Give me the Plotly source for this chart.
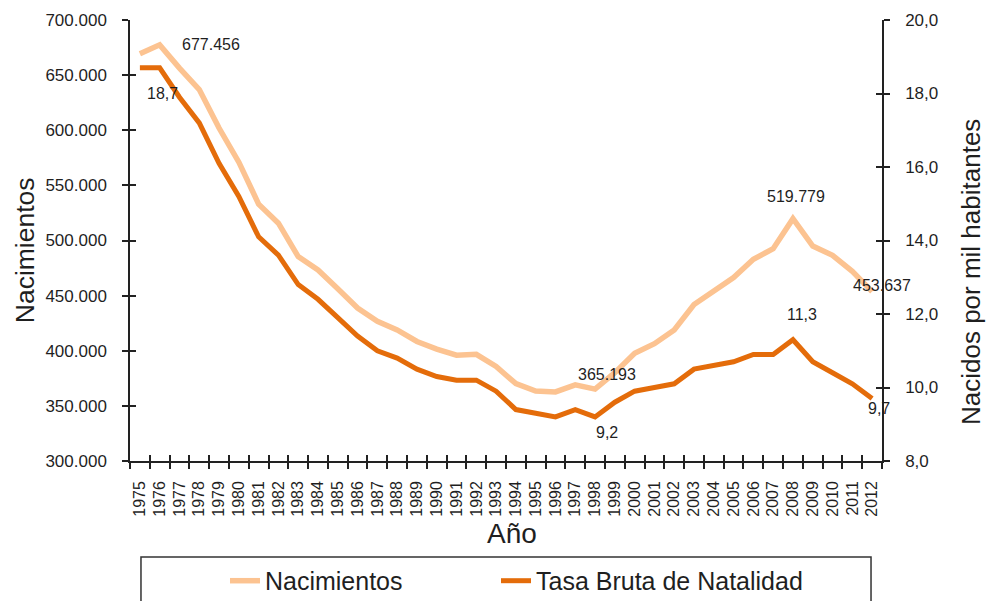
import plotly.graph_objects as go

# Spain: live births and crude birth rate, 1975-2012
years = [str(y) for y in range(1975, 2013)]

nacimientos = [
    669378, 677456, 656357, 636892, 601992, 571018, 533008, 515706, 485352, 473281,
    456298, 438750, 426782, 418919, 408434, 401425, 395989, 396747, 385786, 370148,
    363469, 362626, 369035, 365193, 380130, 397632, 406380, 418846, 441881, 454591,
    466371, 482957, 492527, 519779, 494997, 486575, 471999, 453637,
]

tasa_bruta = [
    18.7, 18.7, 17.9, 17.2, 16.1, 15.2, 14.1, 13.6, 12.8, 12.4,
    11.9, 11.4, 11.0, 10.8, 10.5, 10.3, 10.2, 10.2, 9.9, 9.4,
    9.3, 9.2, 9.4, 9.2, 9.6, 9.9, 10.0, 10.1, 10.5, 10.6,
    10.7, 10.9, 10.9, 11.3, 10.7, 10.4, 10.1, 9.7,
]

left_ticks = [300000, 350000, 400000, 450000, 500000, 550000, 600000, 650000, 700000]
right_ticks = [8, 10, 12, 14, 16, 18, 20]

# years whose values get a data label: (year, dx, dy) for each series
labels_nac = [("1976", 51, 0), ("1998", 12, 15), ("2008", 3, 22), ("2012", 10, 6)]
labels_tbn = [("1976", 3, -26), ("1998", 12, -16), ("2008", 9, 25), ("2012", 7, -10)]

LIGHT = "#FCC391"
DARK = "#E46C0A"
INK = "#1f1f1f"
FONT = "Liberation Sans, Arial, sans-serif"


def fmt_int(v):
    return f"{v:,}".replace(",", ".")


def fmt_dec(v):
    return f"{v:.1f}".replace(".", ",")


fig = go.Figure()

fig.add_trace(go.Scatter(
    x=years, y=nacimientos, name="Nacimientos", mode="lines",
    line=dict(color=LIGHT, width=5.5), xaxis="x", yaxis="y", legend="legend",
))
fig.add_trace(go.Scatter(
    x=years, y=tasa_bruta, name="Tasa Bruta de Natalidad", mode="lines",
    line=dict(color=DARK, width=5), xaxis="x", yaxis="y2", legend="legend2",
))

# empty traces that keep the inner tick-mark axes alive
fig.add_trace(go.Scatter(x=[None], y=[None], xaxis="x2", yaxis="y3",
                         showlegend=False, hoverinfo="skip"))
fig.add_trace(go.Scatter(x=[None], y=[None], xaxis="x2", yaxis="y4",
                         showlegend=False, hoverinfo="skip"))

annotations = []
# data labels (category axis positions given by index)
for yr, dx, dy in labels_nac:
    i = years.index(yr)
    annotations.append(dict(
        x=i, y=nacimientos[i], xref="x", yref="y", text=fmt_int(nacimientos[i]),
        showarrow=False, xshift=dx, yshift=dy, font=dict(size=16, color=INK, family=FONT),
    ))
for yr, dx, dy in labels_tbn:
    i = years.index(yr)
    annotations.append(dict(
        x=i, y=tasa_bruta[i], xref="x", yref="y2", text=fmt_dec(tasa_bruta[i]),
        showarrow=False, xshift=dx, yshift=dy, font=dict(size=16, color=INK, family=FONT),
    ))

# axis titles
annotations += [
    dict(text="Nacimientos", xref="paper", yref="paper", x=-0.1396, y=0.478,
         textangle=-90, showarrow=False, xanchor="center", yanchor="middle",
         font=dict(size=26.5, color=INK, family=FONT)),
    dict(text="Nacidos por mil habitantes", xref="paper", yref="paper", x=1.1184, y=0.4286,
         textangle=-90, showarrow=False, xanchor="center", yanchor="middle",
         font=dict(size=26, color=INK, family=FONT)),
    dict(text="Año", xref="paper", yref="paper", x=0.508, y=-0.1655,
         showarrow=False, xanchor="center", yanchor="middle",
         font=dict(size=28, color=INK, family=FONT)),
]

axis_line = dict(showline=True, linecolor="#222", linewidth=1.5, showgrid=False, zeroline=False)

fig.update_layout(
    width=987, height=601,
    margin=dict(l=130, r=105, t=20, b=140, autoexpand=False),
    paper_bgcolor="white", plot_bgcolor="white",
    font=dict(family=FONT, color=INK),
    separators=",.",
    xaxis=dict(
        type="category", tickson="boundaries", ticks="outside", ticklen=6,
        tickcolor="#222", tickwidth=1.5, tickangle=-90,
        tickfont=dict(size=16), ticklabelstandoff=12,
        range=[-0.5, 37.5], **axis_line,
    ),
    xaxis2=dict(
        overlaying="x", anchor="y", side="bottom", type="linear",
        range=[-0.5, 37.5], tick0=-0.5, dtick=1, ticks="inside", ticklen=6,
        tickcolor="#222", tickwidth=1.5, showticklabels=False,
        showline=False, showgrid=False, zeroline=False,
    ),
    yaxis=dict(
        range=[300000, 700000], tickvals=left_ticks, tickformat=",d",
        ticks="outside", ticklen=6, tickcolor="#222", tickwidth=1.5,
        tickfont=dict(size=17), ticklabelstandoff=12,
        **axis_line,
    ),
    yaxis2=dict(
        overlaying="y", side="right", anchor="x",
        range=[8, 20], tickvals=right_ticks, tickformat=".1f",
        ticks="outside", ticklen=6, tickcolor="#222", tickwidth=1.5,
        tickfont=dict(size=17), ticklabelstandoff=12,
        **axis_line,
    ),
    yaxis3=dict(
        overlaying="y", side="left", anchor="x2",
        range=[300000, 700000], tickvals=left_ticks, ticks="inside", ticklen=6,
        tickcolor="#222", tickwidth=1.5, showticklabels=False,
        showline=False, showgrid=False, zeroline=False,
    ),
    yaxis4=dict(
        overlaying="y", side="right", anchor="x2",
        range=[8, 20], tickvals=right_ticks, ticks="inside", ticklen=6,
        tickcolor="#222", tickwidth=1.5, showticklabels=False,
        showline=False, showgrid=False, zeroline=False,
    ),
    legend=dict(
        x=0.1263, xanchor="left", y=-0.272, yanchor="middle",
        orientation="h", bgcolor="rgba(0,0,0,0)", borderwidth=0,
        font=dict(size=25, color=INK), itemwidth=30,
    ),
    legend2=dict(
        x=0.4867, xanchor="left", y=-0.272, yanchor="middle",
        orientation="h", bgcolor="rgba(0,0,0,0)", borderwidth=0,
        font=dict(size=25, color=INK), itemwidth=30,
    ),
    shapes=[dict(
        type="rect", xref="paper", yref="paper",
        x0=0.0146, x1=0.9854, y0=-0.2177, y1=-0.40,
        line=dict(color="#333", width=1.5), fillcolor="rgba(0,0,0,0)", layer="below",
    )],
    annotations=annotations,
)

fig.write_html("out.html")
